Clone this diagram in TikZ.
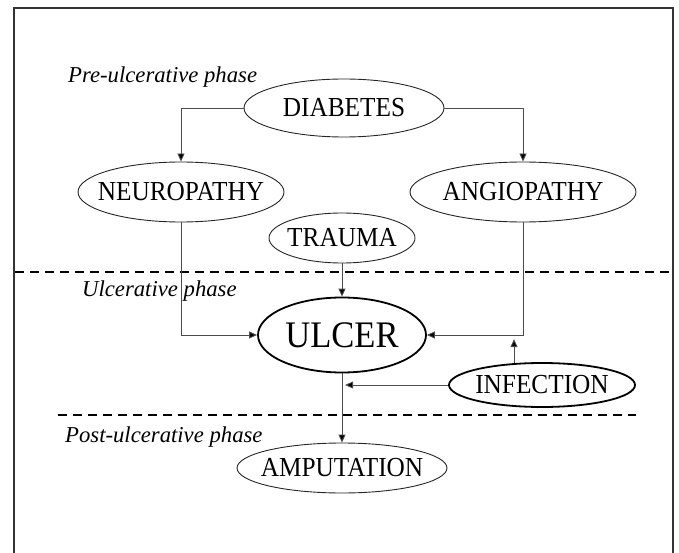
\documentclass[tikz,border=0pt]{standalone}
\usepackage{fontspec}
\setmainfont{Liberation Serif}
\newfontfamily\nodefont{Liberation Serif}[FakeStretch=0.92]
\usetikzlibrary{shapes.geometric,arrows.meta}
\newcommand\zw[1]{\makebox[0pt]{#1}}
\begin{document}
\begin{tikzpicture}[x=1pt,y=-1pt,
  ell/.style={ellipse,draw=black!85,line width=0.9pt,inner sep=0pt,font=\nodefont\fontsize{27.5}{30}\selectfont},
  boldell/.style={ell,draw=black,line width=1.8pt},
  conn/.style={line width=0.9pt,draw=black!70,-{Triangle[length=8pt,width=7pt,fill=black]}},
  phase/.style={font=\fontsize{22.7}{24}\selectfont\itshape,inner sep=0pt,anchor=west},
  divider/.style={line width=2.6pt,dash pattern=on 9pt off 6pt}]
\useasboundingbox (0,0) rectangle (679,553);
\draw[line width=1.4pt,black!80] (14,553) -- (14,8) -- (673,8) -- (673,553);

\node[ell,minimum width=200pt,minimum height=58pt] (dia) at (344,108) {\zw{DIABETES}};
\node[ell,minimum width=206pt,minimum height=60pt] (neu) at (181,192) {\zw{NEUROPATHY}};
\node[ell,minimum width=226pt,minimum height=60pt] (ang) at (523,192) {\zw{ANGIOPATHY}};
\node[ell,minimum width=146pt,minimum height=50pt] (tra) at (342,238) {\zw{TRAUMA}};
\node[boldell,minimum width=168pt,minimum height=75pt,font=\nodefont\fontsize{37.5}{40}\selectfont] (ulc) at (342,335) {\zw{ULCER}};
\node[boldell,minimum width=186pt,minimum height=44pt] (inf) at (542,385) {\zw{INFECTION}};
\node[ell,minimum width=210pt,minimum height=50pt] (amp) at (342,468) {\zw{AMPUTATION}};

\node[phase] (pre) at (68,77) {Pre-ulcerative phase};
\node[phase] (ulcp) at (82,291) {Ulcerative phase};
\node[phase] (post) at (65,437) {Post-ulcerative phase};

\draw[divider] (15,272) -- (673,272);
\draw[divider] (58,415) -- (636,415);

\draw[conn] (dia.west) -| (neu.north);
\draw[conn] (dia.east) -| (ang.north);
\draw[conn] (neu.south) |- (ulc.west);
\draw[conn] (ang.south) |- (ulc.east);
\draw[conn] (tra.south) -- (ulc.north);
\draw[conn] (ulc.south) -- (amp.north);
\draw[conn] (inf.142) -- ++(0,-24);
\draw[conn] (inf.west) -- ++(-103,0);
\end{tikzpicture}
\end{document}
